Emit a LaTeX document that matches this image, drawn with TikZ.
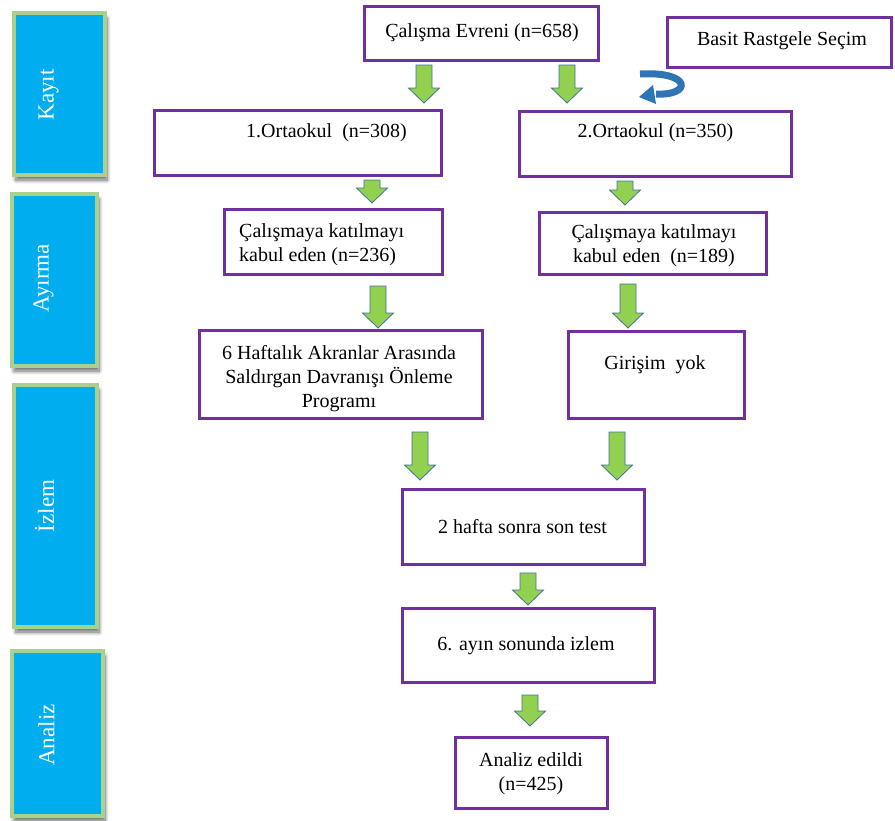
\documentclass[tikz,border=0pt]{standalone}
\usepackage{fontspec}
\setmainfont{Liberation Serif}
\usetikzlibrary{shadows.blur,calc}
\definecolor{purp}{RGB}{112,48,160}
\definecolor{panelblue}{RGB}{0,174,239}
\definecolor{panelgreen}{RGB}{169,209,142}
\definecolor{arrgreen}{RGB}{146,208,80}
\definecolor{arredge}{RGB}{65,113,156}
\definecolor{curveblue}{RGB}{46,117,182}
\tikzset{
  box/.style 2 args={draw=purp, line width=3pt, fill=white, inner sep=0pt, minimum width=#1pt, minimum height=#2pt},
  txt/.style={font=\fontsize{20}{24}\selectfont, align=center, inner sep=0pt},
  panel/.style 2 args={draw=panelgreen, line width=4pt, fill=panelblue, inner sep=0pt, minimum width=#1pt, minimum height=#2pt,
    blur shadow={shadow xshift=2pt, shadow yshift=-5pt, shadow blur radius=4pt, shadow blur steps=8, shadow opacity=60}},
  paneltxt/.style={font=\fontsize{23}{27}\selectfont, text=white, rotate=90, inner sep=0pt},
  garrowst/.style={fill=arrgreen, draw=arredge, line width=0.8pt, line join=miter}
}
% #1 x position, #2 from node, #3 to node, #4 top gap, #5 bottom gap
\newcommand\garrow[5]{%
  \draw[garrowst] let \p1=(#2.south), \p2=(#3.north) in
    ({#1pt-8pt},{\y1-#4pt}) -- ({#1pt+8pt},{\y1-#4pt}) -- ({#1pt+8pt},{\y2+#5pt+15pt})
    -- ({#1pt+15.5pt},{\y2+#5pt+15pt}) -- ({#1pt},{\y2+#5pt}) -- ({#1pt-15.5pt},{\y2+#5pt+15pt})
    -- ({#1pt-8pt},{\y2+#5pt+15pt}) -- cycle;}
\begin{document}
\begin{tikzpicture}[x=1pt,y=-1pt]
\useasboundingbox (0,0) rectangle (895,820);

% side panels
\node[panel={91}{162}] (pk) at (59.5,94) {};
\node[paneltxt] (tk) at (48.5,95) {Kayıt};
\node[panel={85}{172}] (pa) at (54.5,280) {};
\node[paneltxt] (ta) at (43.5,278) {Ayırma};
\node[panel={83}{242}] (pi) at (55.5,506) {};
\node[paneltxt] (ti) at (44.5,506) {İzlem};
\node[panel={91}{165}] (pn) at (57.5,733.5) {};
\node[paneltxt] (tn) at (46.5,735) {Analiz};

% boxes
\node[box={234}{54}] (ev) at (481.5,33.5) {};
\node[txt] (tev) at (482,33) {Çalışma Evreni (n=658)};
\node[box={224}{50}] (bs) at (779.5,42.5) {};
\node[txt] (tbs) at (782,41) {Basit Rastgele Seçim};

\node[box={287}{65}] (o1) at (298,143) {};
\node[txt] (to1) at (326.5,133) {1.Ortaokul\ \ (n=308)};
\node[box={272}{65}] (o2) at (655.5,144) {};
\node[txt] (to2) at (655.5,133) {2.Ortaokul (n=350)};

\node[box={218}{65}] (k1) at (333.5,242) {};
\node[txt, align=left, anchor=west] (tk1) at (239,244.5) {Çalışmaya katılmayı\\kabul eden (n=236)};
\node[box={227}{62}] (k2) at (653,243.5) {};
\node[txt] (tk2) at (654,246) {Çalışmaya katılmayı\\kabul eden\ \ (n=189)};

\node[box={283}{88}] (h6) at (341,374.5) {};
\node[txt] (th6) at (339,379) {6 Haftalık Akranlar Arasında\\Saldırgan Davranışı Önleme\\Programı};
\node[box={176}{87}] (gy) at (656.5,375) {};
\node[txt] (tgy) at (655,365) {Girişim\ \ yok};

\node[box={242}{75}] (s2) at (523.5,527) {};
\node[txt] (ts2) at (522.5,527) {2 hafta sonra son test};
\node[box={252}{74}] (a6) at (528.5,645.5) {};
\node[txt] (ta6) at (526,646) {6. ayın sonunda izlem};
\node[box={152}{71}] (an) at (531.5,773) {};
\node[txt] (tan) at (531,774) {Analiz edildi\\(n=425)};

% green block arrows
\garrow{424}{ev}{o1}{3}{6}
\garrow{567}{ev}{o2}{3}{7}
\garrow{372}{o1}{k1}{3}{5}
\garrow{625}{o2}{k2}{3}{6}
\garrow{378}{k1}{h6}{10}{1}
\garrow{628}{k2}{gy}{8}{2}
\garrow{420}{h6}{s2}{12}{8}
\garrow{617}{gy}{s2}{12}{8}
\garrow{528}{s2}{a6}{7}{2}
\garrow{530}{a6}{an}{11}{10}

% curved blue arrow from selection box
\coordinate (cs) at (640,74);
\coordinate (ce) at (656,94);
\draw[curveblue, line width=7pt] (cs) .. controls (692,71) and (692,96) .. (ce);
\fill[curveblue] (653,85) -- (639,97) -- (656,104) -- cycle;
\end{tikzpicture}
\end{document}
